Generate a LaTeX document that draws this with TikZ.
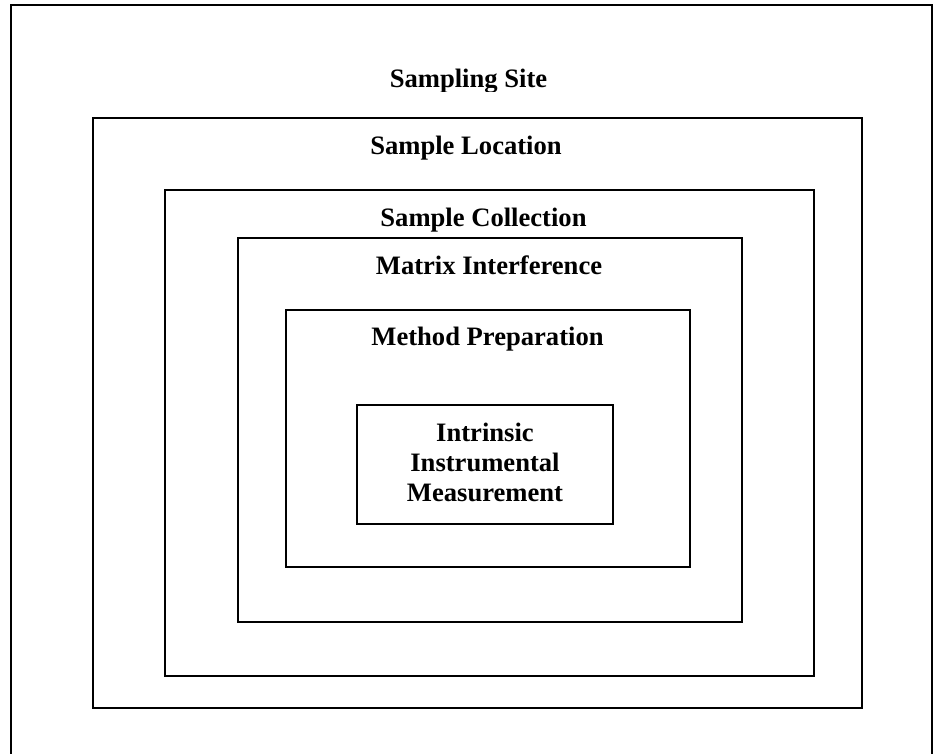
\documentclass[tikz,border=0pt]{standalone}
\usepackage{fontspec}
\setmainfont{Liberation Serif}
\begin{document}
\begin{tikzpicture}[x=1pt,y=-1pt,
  frame/.style={draw=black,line width=1.6pt},
  lbl/.style={font=\bfseries\fontsize{26.6}{30}\selectfont,anchor=base,inner sep=0pt,align=center}]
\useasboundingbox (0,0) rectangle (933,753);
\clip (0,0) rectangle (933,753);
\draw[frame] (11,5) rectangle (932,780);
\draw[frame] (93,118) rectangle (862,708);
\draw[frame] (165,190) rectangle (814,676);
\draw[frame] (238,238) rectangle (742,622);
\draw[frame] (286,310) rectangle (690,567);
\node[frame,minimum width=256pt,minimum height=119pt,inner sep=0pt] (core) at (485,464.5) {};
\begin{scope}
\clip (0,0) rectangle (933,91.5);
\node[lbl] (site) at (468.5,87.5) {Sampling Site};
\end{scope}
\node[lbl] (loc) at (466,154) {Sample Location};
\node[lbl] (coll) at (483.5,226) {Sample Collection};
\node[lbl] (mat) at (489,274) {Matrix Interference};
\node[lbl] (meth) at (487.5,345) {Method Preparation};
\node[lbl] (intr) at (485,441.7) {Intrinsic};
\node[lbl] (inst) at (485,471.7) {Instrumental};
\node[lbl] (meas) at (485,501.7) {Measurement};
\end{tikzpicture}
\end{document}
